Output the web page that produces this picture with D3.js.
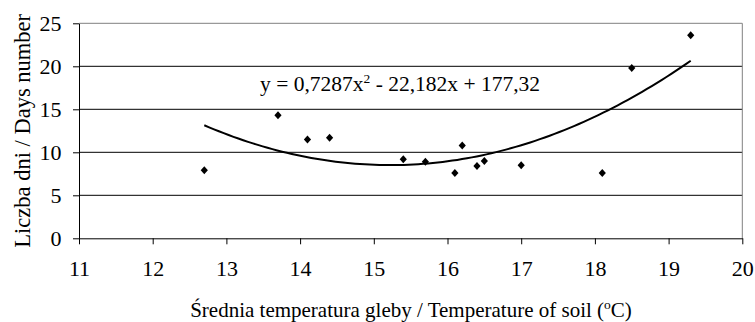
<!DOCTYPE html>
<html><head><meta charset="utf-8">
<script src="https://cdn.jsdelivr.net/npm/d3@7"></script>
<style>body{margin:0;background:#fff}svg{display:block}text{font-family:"Liberation Serif","Times New Roman",serif;fill:#000}</style>
</head><body>
<svg id="c" width="755" height="322"></svg>
<script>
const temps = [12.7, 13.7, 14.1, 14.4, 15.4, 15.7, 16.1, 16.2, 16.4, 16.5, 17.0, 18.1, 18.5, 19.3];
const days  = [7.9, 14.3, 11.5, 11.7, 9.2, 8.9, 7.6, 10.8, 8.4, 9.0, 8.5, 7.6, 19.8, 23.6];
const trendCoeffs = [0.7287, -22.182, 177.32]; // a, b, c
const xTicks = [11, 12, 13, 14, 15, 16, 17, 18, 19, 20];
const yTicks = [0, 5, 10, 15, 20, 25];

const FS = 21;
const svg = d3.select("#c");
const x = d3.scaleLinear().domain([11, 20]).range([79, 742.3]);
const y = d3.scaleLinear().domain([0, 25]).range([238.3, 23.3]);

// gridlines
svg.append("g").selectAll("line").data(yTicks.filter(d => d > 0)).join("line")
  .attr("x1", x(11)).attr("x2", x(20)).attr("y1", d => y(d)).attr("y2", d => y(d))
  .attr("stroke", d => d === 25 ? "#808080" : "#000").attr("stroke-width", 1);
// right border
svg.append("line").attr("x1", x(20)).attr("x2", x(20)).attr("y1", y(25)).attr("y2", y(0))
  .attr("stroke", "#808080");

// axes
const xAxis = svg.append("g").attr("transform", `translate(0,${y(0)})`)
  .call(d3.axisBottom(x).tickValues(xTicks).tickSize(6).tickSizeOuter(0).tickPadding(16.5));
const yAxis = svg.append("g").attr("transform", `translate(${x(11)},0)`)
  .call(d3.axisLeft(y).tickValues(yTicks).tickSize(6).tickSizeOuter(0).tickPadding(11.5));
[xAxis, yAxis].forEach(g => {
  g.attr("font-size", 22).attr("font-family", '"Liberation Serif",serif');
  g.select(".domain").attr("stroke", "#000");
  g.selectAll(".tick line").attr("stroke", "#000");
  g.selectAll("text").attr("fill", "#000");
});

// trend line
const [a, b, c] = trendCoeffs;
const xs = d3.range(0, 101).map(i => temps[0] + (temps[temps.length - 1] - temps[0]) * i / 100);
svg.append("path").datum(xs)
  .attr("d", d3.line().x(d => x(d)).y(d => y(a * d * d + b * d + c)))
  .attr("fill", "none").attr("stroke", "#000").attr("stroke-width", 2);

// points
svg.append("g").selectAll("path").data(temps.map((t, i) => [t, days[i]])).join("path")
  .attr("d", "M0,-4L3.6,0L0,4L-3.6,0Z")
  .attr("transform", d => `translate(${x(d[0])},${y(d[1])})`)
  .attr("fill", "#000");

// equation
const eq = svg.append("text").attr("x", 260).attr("y", 90.5).attr("font-size", 21.5);
eq.append("tspan").text("y = 0,7287x");
eq.append("tspan").attr("dy", -8).attr("font-size", 13.5).text("2");
eq.append("tspan").attr("dy", 8).text(" - 22,182x + 177,32");

// axis titles
const xt = svg.append("text").attr("x", 411).attr("y", 317)
  .attr("text-anchor", "middle").attr("font-size", FS);
xt.append("tspan").text("Średnia temperatura gleby / Temperature of soil (");
xt.append("tspan").attr("dy", -8).attr("font-size", 13.5).text("o");
xt.append("tspan").attr("dy", 8).text("C)");

svg.append("text").attr("transform", `translate(30,${(y(0) + y(25)) / 2}) rotate(-90)`)
  .attr("text-anchor", "middle").attr("font-size", 22.5).text("Liczba dni / Days number");
</script>
</body></html>
